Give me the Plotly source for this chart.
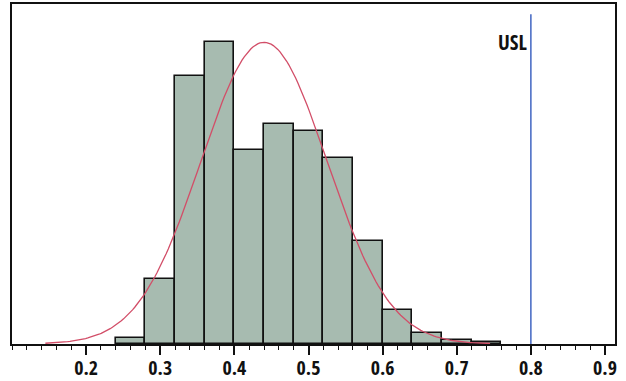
import numpy as np
import plotly.graph_objects as go

# Histogram of measurements: bin left edges (width 0.04) and counts
bin_left = [0.24, 0.28, 0.32, 0.36, 0.40, 0.44, 0.48, 0.52, 0.56, 0.60, 0.64, 0.68, 0.72]
counts = [3, 34, 141, 159, 102, 116, 112, 98, 54, 18, 6, 2, 1]
bin_width = 0.04

# Fitted normal distribution
fit_mean = 0.44
fit_sd = 0.085
fit_range = (0.145, 0.745)

# Specification limit
usl = 0.8
tick_values = [0.2, 0.3, 0.4, 0.5, 0.6, 0.7, 0.8, 0.9]
tick_labels = ["0.2", "0.3", "0.4", "0.5", "0.6", "0.7", "0.8", "0.9"]

FONT = "Open Sans Condensed, Roboto Condensed, sans-serif"

centers = [b + bin_width / 2 for b in bin_left]
n_total = sum(counts)
xs = np.linspace(fit_range[0], fit_range[1], 200)
ys = n_total * bin_width / (fit_sd * np.sqrt(2 * np.pi)) * np.exp(-0.5 * ((xs - fit_mean) / fit_sd) ** 2)

fig = go.Figure()
fig.add_trace(go.Bar(
    x=centers, y=counts, width=bin_width,
    marker=dict(color="#a7bbb0", line=dict(color="#111111", width=1.6)),
    hoverinfo="skip",
))
fig.add_trace(go.Scatter(
    x=xs, y=ys, mode="lines",
    line=dict(color="#d24e68", width=1.3),
    hoverinfo="skip",
))

fig.add_shape(type="line", xref="x", yref="paper", x0=usl, x1=usl, y0=0, y1=0.97,
              line=dict(color="#4d6fc6", width=1.6), layer="above")
fig.add_annotation(x=usl, xref="x", y=0.888, yref="paper", text="<b>USL</b>",
                   showarrow=False, xanchor="right", yanchor="middle", xshift=-2,
                   font=dict(family=FONT, size=21, color="#111111"))

fig.update_layout(
    width=626, height=381,
    margin=dict(l=12, r=11, t=4, b=37),
    paper_bgcolor="white", plot_bgcolor="white",
    showlegend=False, bargap=0,
    font=dict(family=FONT, color="#111111"),
)
fig.update_xaxes(
    range=[0.1, 0.9135], showgrid=False, zeroline=False, automargin=False,
    showline=True, linecolor="#111111", linewidth=2, mirror=True,
    tickmode="array", tickvals=tick_values, ticktext=["<b>%s</b>" % t for t in tick_labels],
    ticks="outside", ticklen=9, tickwidth=1.6, tickcolor="#111111",
    ticklabelstandoff=-4,
    tickfont=dict(family=FONT, size=20, color="#111111"),
    minor=dict(tick0=0, dtick=0.02, ticks="outside", ticklen=4, tickwidth=1.4, tickcolor="#111111"),
)
fig.update_yaxes(
    range=[0, 179], showgrid=False, zeroline=False, showticklabels=False, ticks="",
    automargin=False,
    showline=True, linecolor="#111111", linewidth=2, mirror=True,
)

fig.write_html("out.html")
